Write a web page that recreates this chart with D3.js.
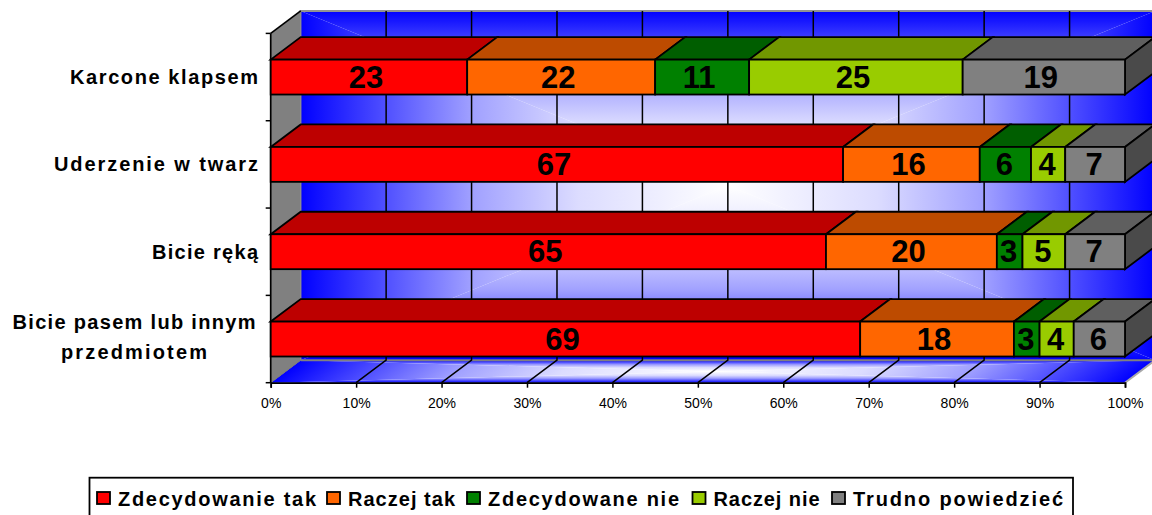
<!DOCTYPE html>
<html>
<head>
<meta charset="utf-8">
<script src="https://cdn.jsdelivr.net/npm/d3@7"></script>
<style>
  html, body { margin: 0; padding: 0; background: #fff; }
  text { font-family: "Liberation Sans", Arial, sans-serif; fill: #000; }
</style>
</head>
<body>
<div class="graph-container"></div>
<script>
const categories = ["Karcone klapsem", "Uderzenie w twarz", "Bicie ręką", "Bicie pasem lub innym|przedmiotem"];
const seriesNames = ["Zdecydowanie tak", "Raczej tak", "Zdecydowane nie", "Raczej nie", "Trudno powiedzieć"];
const seriesColors = ["#ff0000", "#ff6600", "#008000", "#99cc00", "#808080"];
const topColors = ["#bd0000", "#bd4b00", "#005e00", "#719700", "#5f5f5f"];
const zdecydowanieTak = [23, 67, 65, 69];
const raczejTak = [22, 16, 20, 18];
const zdecydowaneNie = [11, 6, 3, 3];
const raczejNie = [25, 4, 5, 4];
const trudnoPowiedziec = [19, 7, 7, 6];
const seriesValues = [zdecydowanieTak, raczejTak, zdecydowaneNie, raczejNie, trudnoPowiedziec];
const xTicks = [0, 10, 20, 30, 40, 50, 60, 70, 80, 90, 100];

const dims = { width: 1152, height: 515, left: 270.7, right: 1125, top: 33.4, bottom: 382.7, dx: 30, dy: 22.5 };

// text widths, the original font is spaced oddly
const labelWidths = { "Karcone klapsem": 188, "Uderzenie w twarz": 204, "Bicie ręką": 106, "Bicie pasem lub innym": 243, "przedmiotem": 146 };
const legendX = [97, 327, 467, 692.5, 832];
const legendWidths = [198, 107, 191, 106, 210];

const svg = d3.select(".graph-container").append("svg")
  .attr("width", dims.width).attr("height", dims.height)
  .style("display", "block");

const x = d3.scaleLinear().domain([0, 100]).range([dims.left, dims.right]);
const y = d3.scaleBand().domain(categories).range([dims.top, dims.bottom]).paddingInner(0.6).paddingOuter(0.3);
const bandStep = (dims.bottom - dims.top) / categories.length;

const poly = (pts) => "M" + pts.map(p => p.join(",")).join("L") + "Z";
const defs = svg.append("defs");

// wall and floor use a rectangular "from centre" fill, built from 4 triangles
const stops = [[0, "#ffffff"], [0.35, "#dcdcff"], [0.5, "#b8b8ff"], [0.6, "#a0a0ff"], [0.8, "#5050ff"], [1, "#0000ff"]];
const addGrad = (id, x1, y1, x2, y2) => {
  const g = defs.append("linearGradient").attr("id", id).attr("gradientUnits", "userSpaceOnUse")
    .attr("x1", x1).attr("y1", y1).attr("x2", x2).attr("y2", y2);
  stops.forEach(s => g.append("stop").attr("offset", s[0]).attr("stop-color", s[1]));
};
const pathFill = (parent, id, x0, x1, y0, y1) => {
  const cx = (x0 + x1) / 2, cy = (y0 + y1) / 2;
  addGrad(id + "l", cx, cy, x0, cy);
  addGrad(id + "r", cx, cy, x1, cy);
  addGrad(id + "t", cx, cy, cx, y0);
  addGrad(id + "b", cx, cy, cx, y1);
  parent.append("path").attr("d", poly([[x0, y0], [cx, cy], [x0, y1]])).attr("fill", `url(#${id}l)`);
  parent.append("path").attr("d", poly([[x1, y0], [cx, cy], [x1, y1]])).attr("fill", `url(#${id}r)`);
  parent.append("path").attr("d", poly([[x0, y0], [cx, cy], [x1, y0]])).attr("fill", `url(#${id}t)`);
  parent.append("path").attr("d", poly([[x0, y1], [cx, cy], [x1, y1]])).attr("fill", `url(#${id}b)`);
};

const wx0 = x(0) + dims.dx, wx1 = x(100) + dims.dx, wy0 = dims.top - dims.dy, wy1 = dims.bottom - dims.dy;

pathFill(svg.append("g"), "wall", wx0, wx1, wy0, wy1);

// floor is the same fill, skewed
const floor = svg.append("g")
  .attr("transform", `matrix(1,0,${-dims.dx / dims.dy},1,${x(0) + dims.dx},${wy1})`);
pathFill(floor, "floor", 0, x(100) - x(0), 0, dims.dy);

// left side wall
svg.append("path").attr("d", poly([[x(0), dims.top], [wx0, wy0], [wx0, wy1], [x(0), dims.bottom]])).attr("fill", "#808080");

// frame of wall and floor
svg.append("line").attr("x1", wx0 - 1).attr("x2", wx1).attr("y1", wy0).attr("y2", wy0).attr("stroke", "#929292").attr("stroke-width", 2);
svg.append("line").attr("x1", wx0).attr("x2", wx0).attr("y1", wy0).attr("y2", wy1).attr("stroke", "#8c8c8c").attr("stroke-width", 1.5);
svg.append("line").attr("x1", wx0).attr("x2", wx1).attr("y1", wy1).attr("y2", wy1).attr("stroke", "#808080").attr("stroke-width", 2);
svg.append("line").attr("x1", x(100)).attr("x2", wx1).attr("y1", dims.bottom).attr("y2", wy1).attr("stroke", "#a8a8a8").attr("stroke-width", 2);

// gridlines: wall and floor
xTicks.slice(1, -1).forEach(t => {
  svg.append("path").attr("d", `M${x(t) + dims.dx},${wy0}V${wy1}L${x(t)},${dims.bottom}`)
    .attr("fill", "none").attr("stroke", "#000").attr("stroke-width", 1.5);
});
svg.append("line").attr("x1", x(0)).attr("x2", wx0).attr("y1", dims.bottom).attr("y2", wy1).attr("stroke", "#777");
svg.append("line").attr("x1", x(0)).attr("x2", wx0).attr("y1", dims.top).attr("y2", wy0).attr("stroke", "#000").attr("stroke-width", 1.7);

// axes
const xAxis = d3.axisBottom(x).tickValues(xTicks).tickFormat(d => d + "%").tickSize(5).tickPadding(10);
const gx = svg.append("g").attr("transform", `translate(0,${dims.bottom})`).call(xAxis);
gx.select(".domain").attr("stroke-width", 1.7);
gx.selectAll("line").attr("stroke-width", 1.5);
gx.selectAll("text").attr("font-size", 14).attr("font-family", "Liberation Sans");

svg.append("line").attr("x1", x(0)).attr("x2", x(0)).attr("y1", dims.top).attr("y2", dims.bottom).attr("stroke", "#000").attr("stroke-width", 1.7);
d3.range(categories.length + 1).forEach(i => {
  const ty = dims.top + i * bandStep;
  svg.append("line").attr("x1", x(0) - 5).attr("x2", x(0)).attr("y1", ty).attr("y2", ty).attr("stroke", "#000").attr("stroke-width", 1.5);
});

// bars
const stackRows = categories.map((c, i) => {
  let acc = 0;
  return seriesValues.map((vals, s) => {
    const row = { cat: c, s, value: vals[i], x0: acc, x1: acc + vals[i] };
    acc += vals[i];
    return row;
  });
});

const barH = y.bandwidth();
const rowG = svg.selectAll("g.row").data(stackRows).enter().append("g").attr("class", "row")
  .attr("transform", d => `translate(0,${y(d[0].cat)})`);

rowG.each(function(row) {
  const g = d3.select(this);
  const last = row[row.length - 1];
  row.forEach(d => {
    g.append("path").attr("d", poly([[x(d.x0), 0], [x(d.x0) + dims.dx, -dims.dy], [x(d.x1) + dims.dx, -dims.dy], [x(d.x1), 0]]))
      .attr("fill", topColors[d.s]).attr("stroke", "#000").attr("stroke-width", 1.8);
  });
  g.append("path").attr("d", poly([[x(last.x1), 0], [x(last.x1) + dims.dx, -dims.dy], [x(last.x1) + dims.dx, barH - dims.dy], [x(last.x1), barH]]))
    .attr("fill", "#4a4a4a").attr("stroke", "#000").attr("stroke-width", 1.8);
  row.forEach(d => {
    g.append("rect").attr("x", x(d.x0)).attr("y", 0).attr("width", x(d.x1) - x(d.x0)).attr("height", barH)
      .attr("fill", seriesColors[d.s]).attr("stroke", "#000").attr("stroke-width", 1.8);
    g.append("text").attr("x", (x(d.x0) + x(d.x1)) / 2 + (d.value >= 10 ? -3 : -1)).attr("y", barH / 2 + 10.5)
      .attr("text-anchor", "middle").attr("font-size", 31).attr("font-weight", 700).text(d.value);
  });
});

// category labels
categories.forEach(c => {
  const lines = c.split("|");
  const mid = y(c) + barH / 2;
  lines.forEach((ln, i) => {
    const w = labelWidths[ln];
    const multi = lines.length > 1;
    svg.append("text").attr("x", multi ? 134 - w / 2 : 258 - w)
      .attr("y", mid + (multi ? 4.5 : 7) + (i - (lines.length - 1) / 2) * 30)
      .attr("font-size", 20).attr("font-weight", 700)
      .attr("textLength", w).attr("lengthAdjust", "spacing").text(ln);
  });
});

// legend, bottom edge runs off the page
const legend = svg.append("g");
legend.append("rect").attr("x", 89.5).attr("y", 477.7).attr("width", 983.5).attr("height", 40)
  .attr("fill", "#fff").attr("stroke", "#000").attr("stroke-width", 1.8);
seriesNames.forEach((n, i) => {
  legend.append("rect").attr("x", legendX[i]).attr("y", 492).attr("width", 13).attr("height", 12)
    .attr("fill", seriesColors[i]).attr("stroke", "#000").attr("stroke-width", 1.8);
  legend.append("text").attr("x", legendX[i] + 21).attr("y", 505.7)
    .attr("font-size", 20).attr("font-weight", 700)
    .attr("textLength", legendWidths[i]).attr("lengthAdjust", "spacing").text(n);
});
</script>
</body>
</html>
